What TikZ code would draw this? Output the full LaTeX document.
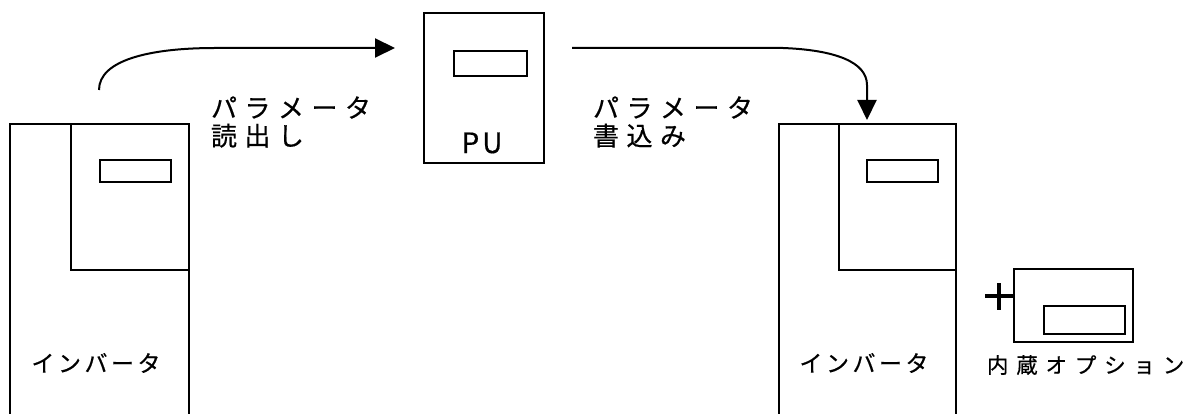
\documentclass[tikz,border=0pt]{standalone}
\usepackage{fontspec}
\newfontfamily\jp[FakeBold=0.5]{Noto Sans CJK JP}
\usetikzlibrary{arrows.meta}
\makeatletter
\newcommand\spaced[2]{\def\sp@sep{}\@tfor\sp@c:=#2\do{\sp@sep\sp@c\def\sp@sep{\kern#1\relax}}}
\makeatother
\begin{document}
\begin{tikzpicture}[x=1pt,y=-1pt,line width=2pt,
  frame/.style={draw,rectangle,inner sep=0pt,outer sep=0pt,anchor=north west},
  toplabel/.style={font=\jp\fontsize{26}{28}\selectfont,inner sep=0pt,anchor=west,align=left},
  botlabel/.style={font=\jp\fontsize{23}{24}\selectfont,inner sep=0pt},
  plusline/.style={line width=3.2pt},
  flow/.style={-{Triangle[length=20pt,width=19pt]}}]
\useasboundingbox (0,0) rectangle (1186,414);
% left inverter
\draw (10,414) |- (189,124) -- (189,414);
\node[frame,minimum width=118pt,minimum height=146pt] (panelL) at (71,124) {};
\node[frame,minimum width=71pt,minimum height=22pt] (dispL) at (100,160) {};
\node[botlabel] (invL) at (96,363) {\spaced{3.5pt}{インバータ}};
% PU
\node[frame,minimum width=120pt,minimum height=150pt] (pu) at (424,13) {};
\node[frame,minimum width=73pt,minimum height=25pt] (dispPU) at (454,51) {};
\node[font=\jp\fontsize{28}{30}\selectfont,inner sep=0pt] (puL) at (482,143) {\spaced{3pt}{PU}};
% right inverter
\draw (779,414) |- (956,124) -- (956,414);
\node[frame,minimum width=117pt,minimum height=146pt] (panelR) at (839,124) {};
\node[frame,minimum width=71pt,minimum height=22pt] (dispR) at (867,160) {};
\node[botlabel] (invR) at (864,363) {\spaced{3.5pt}{インバータ}};
% option
\node[frame,minimum width=119pt,minimum height=73pt] (opt) at (1014,269) {};
\node[frame,minimum width=81pt,minimum height=28pt] (optdisp) at (1044,306) {};
\coordinate (plusc) at (999,296);
\draw[plusline] ([xshift=-14pt]plusc) -- (opt.west |- plusc);
\draw[plusline] ([yshift=13pt]plusc) -- ([yshift=-14pt]plusc);
\node[font=\jp\fontsize{21.5}{24}\selectfont,inner sep=0pt,anchor=west] (optL) at (986,365) {\spaced{7.8pt}{内蔵オプション}};
% labels
\node[toplabel] (readL) at (210,122) {\spaced{7.5pt}{パラメータ}\\\spaced{7.5pt}{読出し}};
\node[toplabel] (writeL) at (592,122) {\spaced{7.5pt}{パラメータ}\\\spaced{7.5pt}{書込み}};
% arrows
\coordinate (rdStart) at (99,90);
\coordinate (rdEnd) at ([xshift=-29pt]pu.west |- 0,48);
\draw[flow] (rdStart) .. controls (99,60) and (150,48) .. (215,48) -- (rdEnd);
\coordinate (wrStart) at ([xshift=28pt]pu.east |- 0,48);
\coordinate (wrEnd) at ([yshift=4pt]dispR.west |- panelR.north);
\draw[flow] (wrStart) -- (783,48) .. controls (835,50) and (867,62) .. (867,85) -- (wrEnd);
\end{tikzpicture}
\end{document}
